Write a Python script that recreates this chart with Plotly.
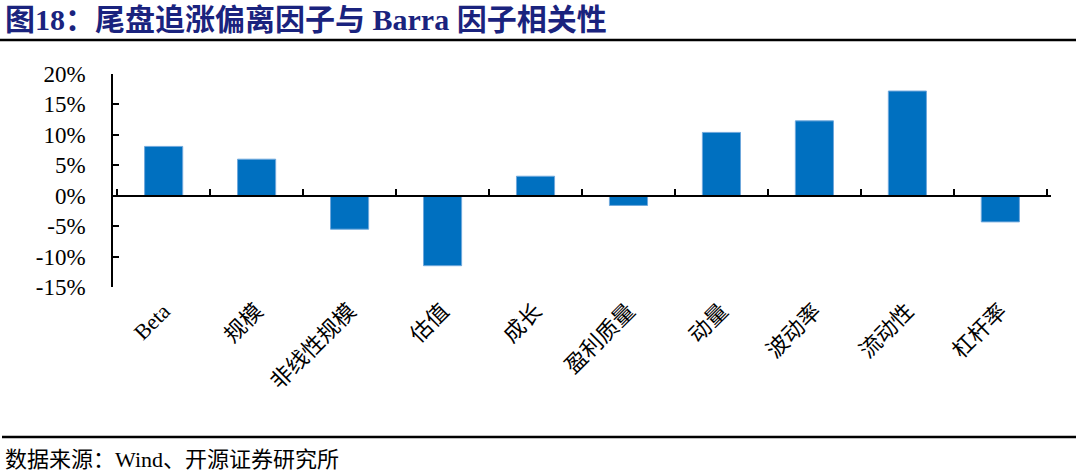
import plotly.graph_objects as go

categories = ["Beta", "规模", "非线性规模", "估值", "成长", "盈利质量", "动量", "波动率", "流动性", "杠杆率"]
values = [8.1, 6.0, -5.5, -11.5, 3.2, -1.6, 10.4, 12.3, 17.2, -4.3]
y_ticks = [-15, -10, -5, 0, 5, 10, 15, 20]
y_tick_text = [f"{v}%" for v in y_ticks]

W, H = 1076, 473
L, R, T, B = 113, 25, 74, 186
pw, ph = W - L - R, H - T - B
y_min, y_max = -15, 20

serif = "Liberation Serif, Times New Roman, Noto Sans CJK SC, serif"

fig = go.Figure()
fig.add_trace(go.Bar(
    x=categories, y=values,
    marker=dict(color="#0070C0", line=dict(color="#6FA8DC", width=1)),
    width=0.41,
    showlegend=False,
))
# invisible trace so the zero-positioned axis renders
fig.add_trace(go.Scatter(x=categories, y=[0] * len(categories), xaxis="x2",
                         mode="markers", marker=dict(opacity=0), showlegend=False,
                         hoverinfo="skip"))

def px_x(p):
    return (p - L) / pw

def px_y(p):
    return (H - B - p) / ph

fig.update_layout(
    width=W, height=H,
    margin=dict(l=L, r=R, t=T, b=B, autoexpand=False),
    paper_bgcolor="white", plot_bgcolor="white",
    font=dict(family=serif, color="black", size=20),
    xaxis=dict(
        type="category", showline=False, ticks="", tickangle=-45,
        tickfont=dict(family=serif, size=22, color="black"),
        ticklabelstandoff=6, automargin=False,
        showgrid=False, zeroline=False,
    ),
    xaxis2=dict(
        type="category", overlaying="x", anchor="free",
        position=(0 - y_min) / (y_max - y_min),
        side="bottom", automargin=False,
        showline=True, linecolor="black", linewidth=1.5,
        ticks="inside", ticklen=6, tickwidth=1.5, tickcolor="black",
        tickson="boundaries", showticklabels=False, showgrid=False,
        zeroline=False, matches="x",
    ),
    yaxis=dict(
        range=[y_min, y_max], tickvals=y_ticks, ticktext=y_tick_text,
        showline=True, linecolor="black", linewidth=1.5,
        ticks="inside", ticklen=6, tickwidth=1.5, tickcolor="black",
        ticklabelstandoff=21, automargin=False,
        tickfont=dict(family=serif, size=23, color="black"),
        showgrid=False, zeroline=False,
    ),
    title=dict(
        text="图18：尾盘追涨偏离因子与 Barra 因子相关性",
        xref="container", yref="container",
        x=5 / W, xanchor="left", y=1 - 19 / H, yanchor="middle",
        font=dict(family="Liberation Serif, Noto Sans CJK SC, serif", size=30,
                  color="#1A237E", weight="bold"),
    ),
    annotations=[dict(
        text="数据来源：Wind、开源证券研究所",
        xref="paper", yref="paper",
        x=px_x(3), y=px_y(459), xanchor="left", yanchor="middle",
        showarrow=False,
        font=dict(family="Liberation Serif, Noto Sans CJK SC, serif", size=22, color="black"),
    )],
    shapes=[
        dict(type="line", xref="paper", yref="paper",
             x0=px_x(0), x1=px_x(W), y0=px_y(40), y1=px_y(40),
             line=dict(color="black", width=2.5)),
        dict(type="line", xref="paper", yref="paper",
             x0=px_x(2), x1=px_x(W), y0=px_y(437), y1=px_y(437),
             line=dict(color="black", width=2.5)),
    ],
)

fig.write_html("out.html",
               config={"displayModeBar": False},
               post_script="document.body.style.margin='0';document.body.style.overflow='hidden';")
